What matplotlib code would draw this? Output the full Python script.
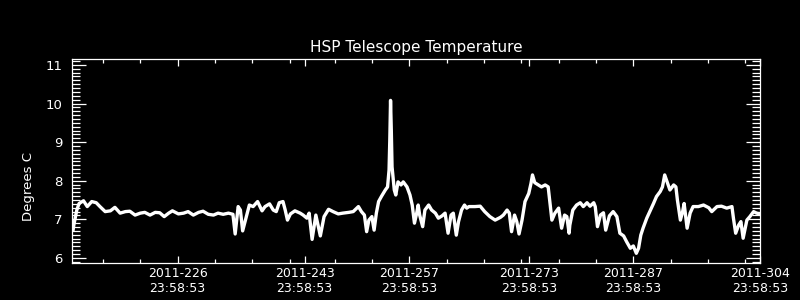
import matplotlib
matplotlib.use('Agg')
import matplotlib.pyplot as plt

# Datos (dia del año 2011, grados C)
dias = [212.0, 212.1, 212.5, 212.8, 213.4, 213.9, 214.5, 215.1, 215.6, 216.3,
        217.0, 217.6, 218.3, 219.0, 219.6, 220.3, 221.0, 221.6, 222.3, 223.0,
        223.6, 224.2, 224.8, 225.3, 226.1, 226.8, 227.4, 228.1, 228.8, 229.4,
        230.1, 230.8, 231.4, 232.1, 232.8, 233.4, 233.7, 234.1, 234.4, 234.7,
        235.2, 235.6, 236.1, 236.7, 237.3, 237.7, 238.3, 238.8, 239.2, 239.6,
        240.1, 240.4, 240.7, 241.1, 241.7, 242.4, 242.8, 243.3, 243.6, 244.0,
        244.5, 245.1, 245.6, 246.2, 246.8, 247.5, 248.1, 248.9, 249.5, 250.2,
        250.6, 251.0, 251.3, 251.6, 252.0, 252.3, 252.6, 252.9, 253.3, 253.8,
        254.1, 254.3, 254.4, 254.5, 254.6, 254.7, 255.0, 255.2, 255.5, 255.9,
        256.2, 256.7, 257.1, 257.4, 257.7, 258.0, 258.2, 258.4, 258.8, 259.1,
        259.6, 260.0, 260.5, 260.9, 261.4, 261.8, 262.2, 262.6, 262.9, 263.3,
        263.6, 264.0, 264.4, 264.7, 265.0, 265.8, 266.5, 267.1, 267.8, 268.5,
        269.2, 269.6, 270.1, 270.4, 270.7, 271.1, 271.4, 271.7, 272.1, 272.5,
        273.0, 273.3, 273.5, 273.8, 274.3, 274.7, 275.2, 275.6, 275.9, 276.1,
        276.5, 277.0, 277.4, 277.8, 278.1, 278.4, 278.5, 278.9, 279.4, 279.9,
        280.3, 280.8, 281.2, 281.7, 281.9, 282.2, 282.6, 283.0, 283.3, 283.8,
        284.3, 284.8, 285.2, 285.7, 286.1, 286.6, 287.0, 287.4, 287.7, 288.0,
        288.3, 288.8, 289.2, 289.7, 290.1, 290.6, 290.9, 291.2, 291.6, 291.9,
        292.4, 292.7, 292.9, 293.3, 293.6, 293.8, 294.2, 294.6, 295.0, 295.7,
        296.4, 297.1, 297.5, 298.2, 298.8, 299.5, 300.2, 300.4, 300.7, 301.1,
        301.4, 301.7, 302.2, 302.6, 303.1, 303.5, 304.0]
temperatura = [6.72, 6.85, 7.24, 7.41, 7.48, 7.33, 7.46, 7.43, 7.33, 7.20,
               7.22, 7.31, 7.16, 7.20, 7.21, 7.11, 7.16, 7.18, 7.11, 7.18,
               7.17, 7.07, 7.16, 7.22, 7.14, 7.16, 7.20, 7.11, 7.18, 7.21,
               7.13, 7.11, 7.16, 7.13, 7.16, 7.13, 6.62, 7.33, 7.24, 6.70,
               7.07, 7.37, 7.33, 7.46, 7.22, 7.33, 7.40, 7.24, 7.20, 7.43,
               7.46, 7.24, 6.98, 7.14, 7.22, 7.16, 7.11, 7.03, 7.16, 6.48,
               7.11, 6.57, 7.07, 7.26, 7.20, 7.14, 7.16, 7.18, 7.20, 7.33,
               7.20, 7.11, 6.68, 6.98, 7.07, 6.72, 7.16, 7.46, 7.60, 7.76,
               7.84, 8.28, 9.05, 10.08, 9.31, 8.36, 7.76, 7.63, 7.97, 7.89,
               7.97, 7.84, 7.63, 7.37, 6.90, 7.16, 7.37, 7.11, 6.81, 7.24,
               7.37, 7.24, 7.16, 7.03, 7.09, 7.16, 6.64, 7.11, 7.16, 6.59,
               6.94, 7.24, 7.37, 7.29, 7.33, 7.33, 7.34, 7.20, 7.07, 6.98,
               7.05, 7.11, 7.24, 7.16, 6.68, 7.11, 6.94, 6.62, 6.98, 7.46,
               7.67, 7.93, 8.15, 7.95, 7.89, 7.84, 7.89, 7.84, 7.33, 6.98,
               7.16, 7.29, 6.77, 7.11, 7.07, 6.64, 6.85, 7.24, 7.37, 7.43,
               7.33, 7.43, 7.34, 7.43, 7.33, 6.81, 7.11, 7.17, 6.72, 7.09,
               7.20, 7.07, 6.64, 6.57, 6.42, 6.25, 6.31, 6.12, 6.25, 6.59,
               6.77, 7.03, 7.20, 7.41, 7.59, 7.72, 7.84, 8.15, 7.93, 7.76,
               7.89, 7.84, 7.50, 6.98, 7.20, 7.41, 6.77, 7.16, 7.33, 7.33,
               7.37, 7.30, 7.20, 7.33, 7.34, 7.29, 7.33, 7.03, 6.64, 6.85,
               6.94, 6.51, 6.98, 7.07, 7.20, 7.16, 7.14]

# Marcas del eje x (dia del año)
dias_mayores = [226, 243, 257, 273, 287, 304]
etiquetas_x = ['2011-226\n23:58:53', '2011-243\n23:58:53', '2011-257\n23:58:53',
               '2011-273\n23:58:53', '2011-287\n23:58:53', '2011-304\n23:58:53']
dias_menores = [216, 221, 231, 236, 241, 247, 252, 262, 267, 272, 277, 282,
                292, 297, 302]
valores_y = [6, 7, 8, 9, 10, 11]

fig = plt.figure(figsize=(8, 3), dpi=100, facecolor='black')
ax = fig.add_axes([0.0904, 0.1243, 0.86, 0.678])
ax.set_facecolor('black')

ax.plot(dias, temperatura, color='white', linewidth=2.4)

ax.set_xlim(211.9, 304.0)
ax.set_ylim(5.876, 11.145)

# Configurar ejes estilo IDL
for lado in ax.spines.values():
    lado.set_color('white')
    lado.set_linewidth(0.9)

ax.set_xticks(dias_mayores)
ax.set_xticklabels(etiquetas_x)
ax.set_xticks(dias_menores, minor=True)
ax.set_yticks(valores_y)
ax.set_yticks([v / 10 for v in range(59, 112)], minor=True)

ax.tick_params(axis='x', which='major', direction='in', length=4.8, width=0.9,
               color='white', labelcolor='white', labelsize=9, pad=3,
               top=True, bottom=True)
ax.tick_params(axis='x', which='minor', direction='in', length=2.6, width=0.9,
               color='white', top=True, bottom=True)
ax.tick_params(axis='y', which='major', direction='in', length=10, width=0.9,
               color='white', labelcolor='white', labelsize=9.5, pad=7,
               left=True, right=True)
ax.tick_params(axis='y', which='minor', direction='in', length=5.5, width=0.9,
               color='white', left=True, right=True)

ax.set_title('HSP Telescope Temperature', color='white', fontsize=11, pad=5)
ax.set_ylabel('Degrees C', color='white', fontsize=9.5)
ax.yaxis.set_label_coords(-0.054, 0.377)

fig.savefig('out.png', dpi=100, facecolor='black')
